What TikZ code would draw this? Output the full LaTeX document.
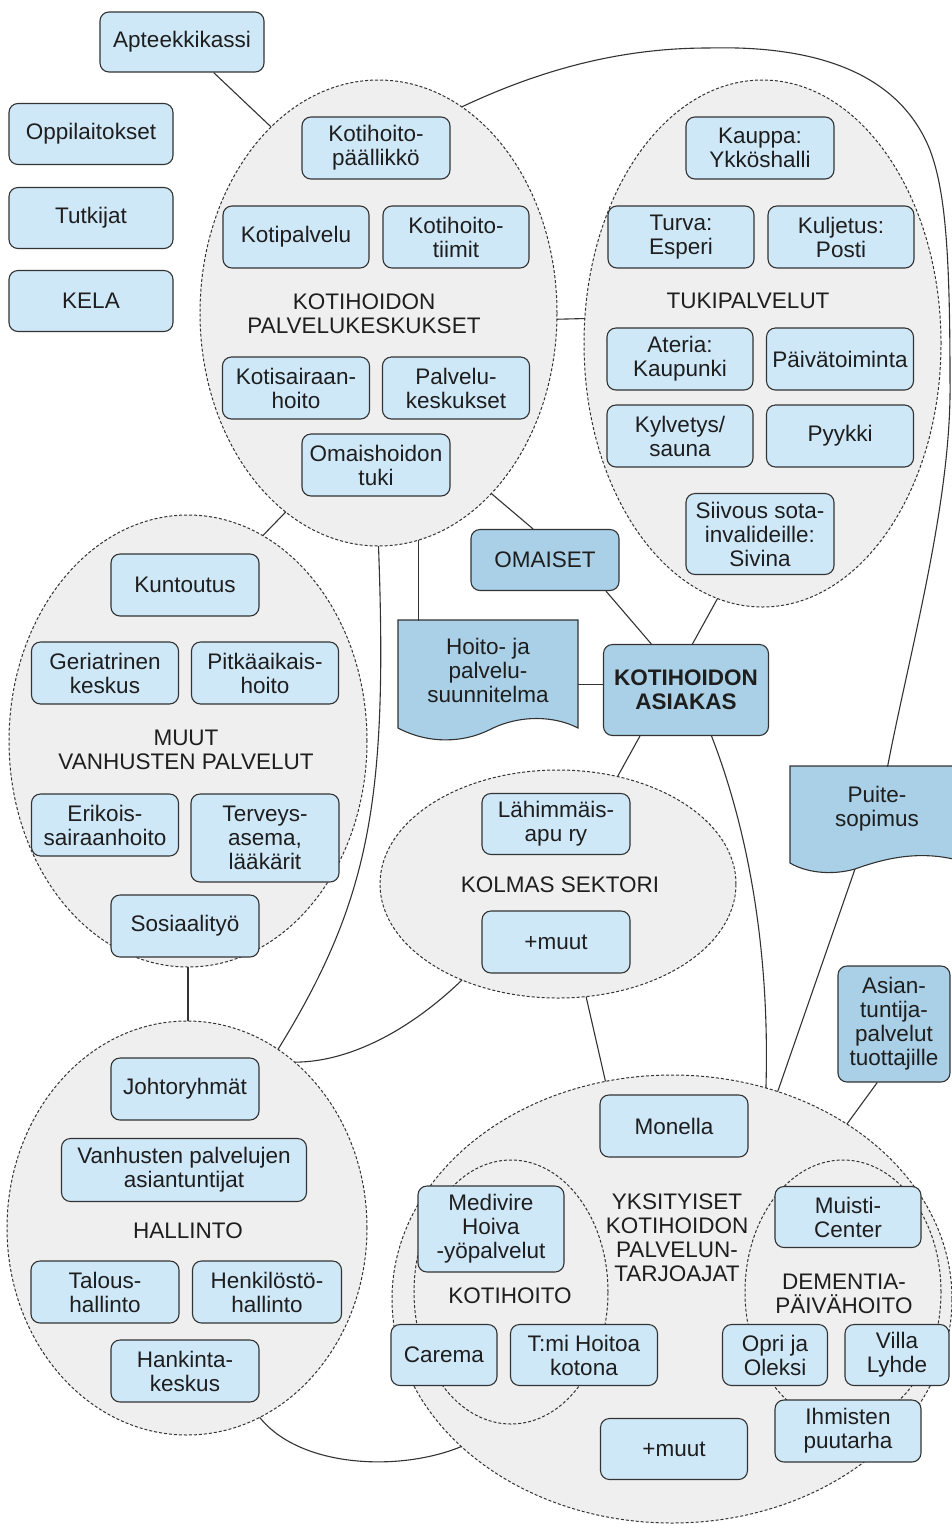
\documentclass[tikz,border=0pt]{standalone}
\usepackage{fontspec}
\setmainfont{Liberation Sans}
\usetikzlibrary{shapes.geometric}
\definecolor{boxc}{HTML}{CFE8F8}
\definecolor{dboxc}{HTML}{A9D0E6}
\definecolor{grpc}{HTML}{EFEFEF}
\definecolor{linec}{HTML}{333333}
\definecolor{textc}{HTML}{1E1E1E}
\begin{document}
\begin{tikzpicture}[x=1pt,y=-1pt,
  every node/.style={font=\fontsize{22.5}{24}\selectfont, text=textc},
  box/.style={draw=linec, fill=boxc, rounded corners=9pt, line width=1.1pt, minimum width=148pt, minimum height=62pt, inner sep=1pt, align=center},
  dbox/.style={box, fill=dboxc},
  grp/.style={ellipse, draw=linec, fill=grpc, dash pattern=on 3pt off 2pt, line width=1pt, inner sep=0pt, outer sep=0pt},
  lbl/.style={align=center, inner sep=0pt},
  conn/.style={draw=linec, line width=1.1pt},
  doc/.style={draw=linec, fill=dboxc, line width=1.1pt}]

\path[use as bounding box, fill=white] (0,0) rectangle (951,1524);

% groups
\node[grp, minimum width=357pt, minimum height=466pt] (kph) at (378.5,313) {};
\node[grp, minimum width=357pt, minimum height=527pt] (tuki) at (762.5,343.5) {};
\node[grp, minimum width=358pt, minimum height=452pt] (muut) at (188,741) {};
\node[grp, minimum width=356pt, minimum height=228pt] (kolmas) at (558,884) {};
\node[grp, minimum width=360pt, minimum height=414pt] (hall) at (187,1228) {};
\node[grp, minimum width=560pt, minimum height=448pt] (yks) at (672,1299) {};
\node[grp, minimum width=194pt, minimum height=264pt] (koti) at (511,1292) {};
\node[grp, minimum width=196pt, minimum height=264pt] (dem) at (843,1292) {};

% group labels
\node[lbl] (lkph) at (364,314) {KOTIHOIDON\\PALVELUKESKUKSET};
\node[lbl] (ltuki) at (748,301) {TUKIPALVELUT};
\node[lbl] (lmuut) at (186,750) {MUUT\\VANHUSTEN PALVELUT};
\node[lbl] (lkolmas) at (560,885) {KOLMAS SEKTORI};
\node[lbl] (lhall) at (188,1231) {HALLINTO};
\node[lbl] (lyks) at (677,1238) {YKSITYISET\\KOTIHOIDON\\PALVELUN-\\TARJOAJAT};
\node[lbl] (lkoti) at (510,1296) {KOTIHOITO};
\node[lbl] (ldem) at (844,1294) {DEMENTIA-\\PÄIVÄHOITO};

% documents
\path[doc] (398,620) -- (578,620) -- (578,728) .. controls (555,716) and (520,714) .. (489,730) .. controls (465,742) and (430,745) .. (398,728) -- cycle;
\node[lbl, minimum width=180pt, minimum height=98pt] (hoito) at (488,670) {Hoito- ja\\palvelu-\\suunnitelma};
\path[doc] (790,766) -- (964,766) -- (964,862) .. controls (920,848) and (880,860) .. (855,869) .. controls (830,876) and (805,872) .. (790,863) -- cycle;
\node[lbl, minimum width=174pt, minimum height=84pt] (puite) at (877,809) {Puite-\\sopimus};
\coordinate (puitebot) at (855,869);

% boxes
\node[box, minimum width=164pt, minimum height=60pt] (apt) at (182,42) {Apteekkikassi};
\node[box, minimum width=164pt, minimum height=61pt] (opp) at (91,134) {Oppilaitokset};
\node[box, minimum width=164pt, minimum height=61pt] (tut) at (91,218) {Tutkijat};
\node[box, minimum width=164pt, minimum height=61pt] (kela) at (91,301) {KELA};

\node[box] (kpaal) at (376,148) {Kotihoito-\\päällikkö};
\node[box, minimum width=146pt] (kpalv) at (296,237) {Kotipalvelu};
\node[box, minimum width=146pt] (ktiim) at (456,237) {Kotihoito-\\tiimit};
\node[box, minimum width=147pt] (ksair) at (296,388) {Kotisairaan-\\hoito};
\node[box, minimum width=147pt] (pkesk) at (456,388) {Palvelu-\\keskukset};
\node[box] (omtuki) at (376,465) {Omaishoidon\\tuki};

\node[box] (kauppa) at (760,148) {Kauppa:\\Ykköshalli};
\node[box, minimum width=146pt] (turva) at (681,237) {Turva:\\Esperi};
\node[box, minimum width=146pt] (kulj) at (841,237) {Kuljetus:\\Posti};
\node[box, minimum width=146pt] (ateria) at (680,359) {Ateria:\\Kaupunki};
\node[box, minimum width=147pt] (paiva) at (840,359) {Päivätoiminta};
\node[box, minimum width=146pt] (kylv) at (680,436) {Kylvetys/\\sauna};
\node[box, minimum width=147pt] (pyykki) at (840,436) {Pyykki};
\node[box, minimum height=81pt] (siivous) at (760,534) {Siivous sota-\\invalideille:\\Sivina};

\node[box] (kunt) at (185,585) {Kuntoutus};
\node[box, minimum width=147pt] (geri) at (105,673) {Geriatrinen\\keskus};
\node[box, minimum width=147pt] (pitka) at (265,673) {Pitkäaikais-\\hoito};
\node[box, minimum width=147pt] (erik) at (105,825) {Erikois-\\sairaanhoito};
\node[box, minimum height=88pt] (terv) at (265,838) {Terveys-\\asema,\\lääkärit};
\node[box] (sos) at (185,926) {Sosiaalityö};

\node[dbox, minimum height=61pt] (omaiset) at (545,560) {OMAISET};
\node[dbox, minimum width=165pt, minimum height=91pt, font=\fontsize{22.5}{24}\selectfont\bfseries] (asiakas) at (686,690) {KOTIHOIDON\\ASIAKAS};
\node[dbox, minimum width=112pt, minimum height=116pt] (asian) at (894,1024) {Asian-\\tuntija-\\palvelut\\tuottajille};

\node[box, minimum height=61pt] (lahi) at (556,824) {Lähimmäis-\\apu ry};
\node[box] (kmuut) at (556,942) {+muut};

\node[box] (johto) at (185,1089) {Johtoryhmät};
\node[box, minimum width=245pt, minimum height=63pt] (vanh) at (184,1170) {Vanhusten palvelujen\\asiantuntijat};
\node[box] (talous) at (105,1292) {Talous-\\hallinto};
\node[box, minimum width=149pt] (henk) at (267,1292) {Henkilöstö-\\hallinto};
\node[box] (hank) at (185,1371) {Hankinta-\\keskus};

\node[box] (monella) at (674,1126) {Monella};
\node[box, minimum width=146pt, minimum height=86pt] (medi) at (491,1229) {Medivire\\Hoiva\\-yöpalvelut};
\node[box, minimum width=146pt, minimum height=61pt] (muisti) at (848,1217) {Muisti-\\Center};
\node[box, minimum width=106pt, minimum height=61pt] (carema) at (444,1355) {Carema};
\node[box, minimum width=147pt, minimum height=61pt] (tmi) at (584,1355) {T:mi Hoitoa\\kotona};
\node[box, minimum width=105pt, minimum height=61pt] (opri) at (775,1355) {Opri ja\\Oleksi};
\node[box, minimum width=104pt, minimum height=61pt] (villa) at (897,1355) {Villa\\Lyhde};
\node[box, minimum width=146pt] (ihm) at (848,1431) {Ihmisten\\puutarha};
\node[box, minimum width=147pt, minimum height=61pt] (ymuut) at (674,1449) {+muut};

% connectors
\draw[conn] (apt.-44) -- (kph.120);
\draw[conn] (kph.-2) -- (tuki.172);
\draw[conn] (kph.68) .. controls (540,70) and (620,48) .. (708,48) .. controls (820,45) and (900,75) .. (930,150) .. controls (945,190) and (950,250) .. (950,380) .. controls (952,500) and (910,650) .. (puite.76.6);
\draw[conn] (puitebot) -- (yks.63);
\draw[conn] (asian.-106.3) -- (yks.45);
\draw[conn] (asiakas.-61.5) .. controls (748,830) and (770,950) .. (yks.66.5);
\draw[conn] (asiakas.-135) -- (kolmas.61.6);
\draw[conn] (kolmas.-76.6) -- (yks.107.4);
\draw[conn] (kolmas.-135.3) .. controls (410,1030) and (350,1062) .. (hall.57);
\draw[conn] (kph.-90) .. controls (388,800) and (370,900) .. (hall.63.2);
\draw[conn] (kph.-80) -- (kph.-80 |- hoito.north);
\draw[conn] (kph.-58.7) -- (omaiset.111.5);
\draw[conn] (omaiset.-27.3) -- (asiakas.127);
\draw[conn] (tuki.-100.1) -- (asiakas.82.4);
\draw[conn] (hoito.-9.5) -- (hoito.-9.5 -| asiakas.west);
\draw[conn] (hall.-69.5) .. controls (300,1468) and (400,1472) .. (yks.-145.1);
\draw[conn] (muut.south) -- (muut.south |- hall.north);
\draw[conn] (kph.-115.4) -- (muut.70.1);
\end{tikzpicture}
\end{document}
